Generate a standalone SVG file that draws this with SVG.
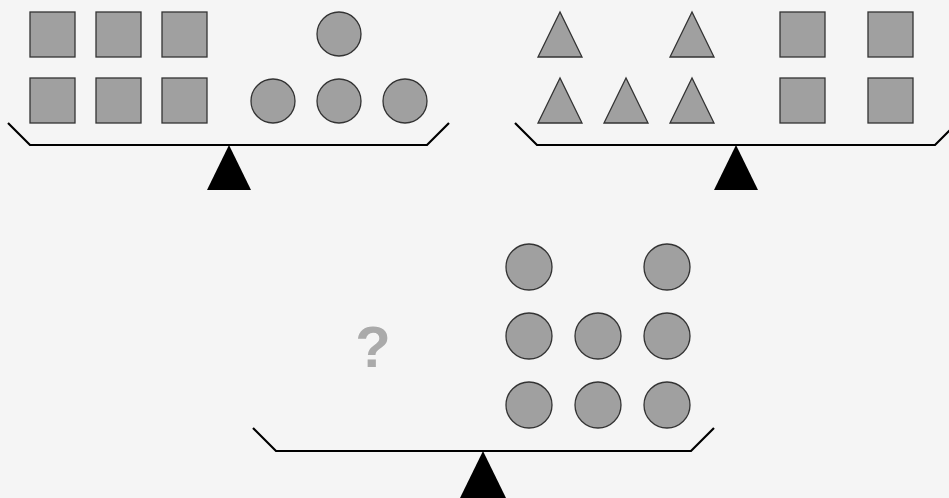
<svg xmlns="http://www.w3.org/2000/svg" width="949" height="498" viewBox="0 0 949 498">
<style>
.s{fill:#a0a0a0;stroke:#333;stroke-width:1.3}
.b{fill:none;stroke:#000;stroke-width:2.2}
.f{fill:#000}
.q{font-family:"Liberation Sans",Arial,sans-serif;font-weight:bold;font-size:58px;fill:#aaa}
</style>
<rect width="949" height="498" fill="#f5f5f5"/>
<g id="scale1">
<rect class="s" x="30" y="12" width="45" height="45"/>
<rect class="s" x="96" y="12" width="45" height="45"/>
<rect class="s" x="162" y="12" width="45" height="45"/>
<rect class="s" x="30" y="78" width="45" height="45"/>
<rect class="s" x="96" y="78" width="45" height="45"/>
<rect class="s" x="162" y="78" width="45" height="45"/>
<circle class="s" cx="339" cy="34" r="22"/>
<circle class="s" cx="273" cy="101" r="22"/>
<circle class="s" cx="339" cy="101" r="22"/>
<circle class="s" cx="405" cy="101" r="22"/>
<polyline class="b" points="8,123 30,145 427,145 449,123"/>
<polygon class="f" points="229,145 207,190 251,190"/>
</g>
<g id="scale2">
<polygon class="s" points="560,12 538,57 582,57"/>
<polygon class="s" points="692,12 670,57 714,57"/>
<polygon class="s" points="560,78 538,123 582,123"/>
<polygon class="s" points="626,78 604,123 648,123"/>
<polygon class="s" points="692,78 670,123 714,123"/>
<rect class="s" x="780" y="12" width="45" height="45"/>
<rect class="s" x="868" y="12" width="45" height="45"/>
<rect class="s" x="780" y="78" width="45" height="45"/>
<rect class="s" x="868" y="78" width="45" height="45"/>
<polyline class="b" points="515,123 537,145 935,145 957,123"/>
<polygon class="f" points="736,145 714,190 758,190"/>
</g>
<g id="scale3">
<text class="q" x="373" y="367" text-anchor="middle">?</text>
<circle class="s" cx="529" cy="267" r="23"/>
<circle class="s" cx="667" cy="267" r="23"/>
<circle class="s" cx="529" cy="336" r="23"/>
<circle class="s" cx="598" cy="336" r="23"/>
<circle class="s" cx="667" cy="336" r="23"/>
<circle class="s" cx="529" cy="405" r="23"/>
<circle class="s" cx="598" cy="405" r="23"/>
<circle class="s" cx="667" cy="405" r="23"/>
<polyline class="b" points="253,428 276,451 691,451 714,428"/>
<polygon class="f" points="483,451 460,498 506,498"/>
</g>
</svg>
